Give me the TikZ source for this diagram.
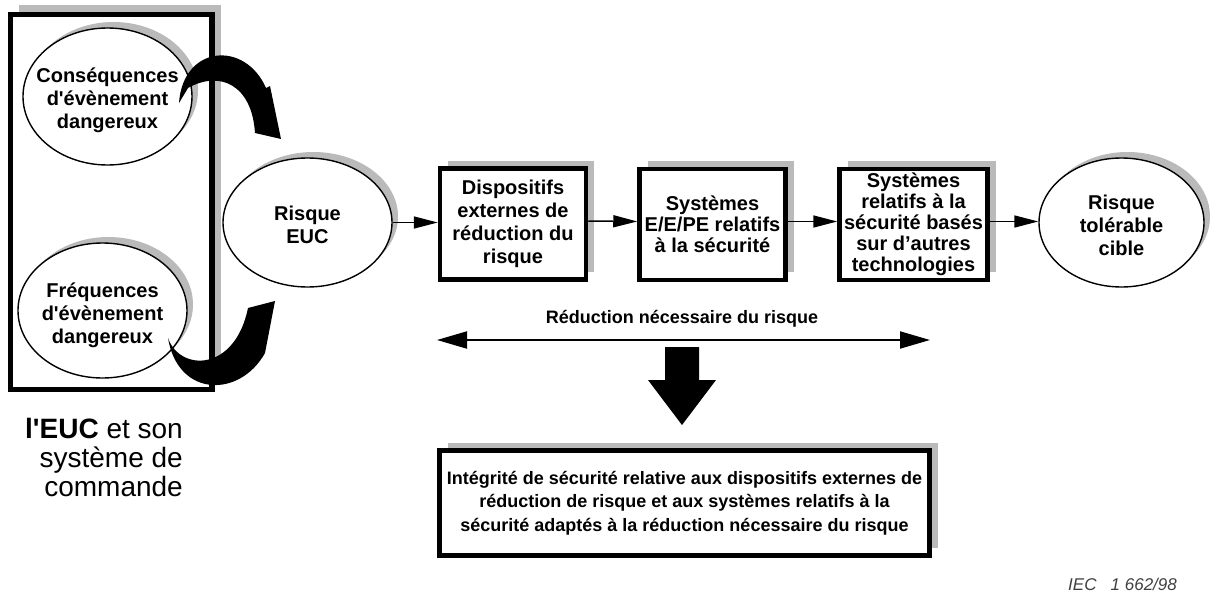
\documentclass[tikz,border=0pt]{standalone}
\usepackage{fontspec}
\setmainfont{Liberation Sans}
\usetikzlibrary{arrows.meta,shapes.geometric,shadows}
\begin{document}
\begin{tikzpicture}[x=1pt,y=-1pt,
  shadeA/.style={drop shadow={shadow xshift=#1,shadow yshift=#1,fill=black!27,opacity=1}},
  stepbox/.style={draw,line width=4.5pt,fill=white,inner sep=0pt,
    minimum width=146pt,minimum height=111pt,align=center,
    font=\fontsize{20}{21}\selectfont\bfseries,shadeA=8pt},
  oval/.style={ellipse,draw,line width=1.4pt,fill=white,inner sep=0pt,shadeA=6pt},
  ovaltext/.style={align=center,inner sep=0pt,font=\fontsize{20}{23}\selectfont\bfseries},
  conn/.style={line width=1.5pt,-{Triangle[length=24pt,width=12pt]}},
  twoway/.style={line width=2pt,{Triangle[length=30pt,width=17pt]}-{Triangle[length=30pt,width=17pt]}},
  bigarrow/.style={fill=black},
]
\useasboundingbox (0,0) rectangle (1210,594);

% EUC and its control system
\node[draw,line width=5.5pt,fill=white,inner sep=0pt,minimum width=201.5pt,
  minimum height=375pt,shadeA=9pt] (sys) at (111,202) {};
\node[oval,minimum width=169pt,minimum height=137pt] (cons) at (107.5,96.5) {};
\node[ovaltext] (constext) at (107.5,100)
  {Conséquences\\d\textquotesingle évènement\\dangereux};
\node[oval,minimum width=169pt,minimum height=135pt] (freq) at (102.5,310.5) {};
\node[ovaltext] (freqtext) at (102.5,315)
  {Fréquences\\d\textquotesingle évènement\\dangereux};
\node[anchor=north east,align=right,inner sep=0pt,font=\fontsize{28}{29}\selectfont]
  (syslabel) at (183,418) {\textbf{l\textquotesingle EUC} et son\\système de\\commande};

% EUC risk
\node[oval,minimum width=169pt,minimum height=129pt] (euc) at (307.5,222.5) {};
\node[ovaltext] (euctext) at (307.5,225) {Risque\\EUC};

% curved arrows feeding the EUC risk
\fill[bigarrow] (179,103) .. controls (183,45) and (245,40) .. (266,88)
  -- (270,86) -- (281,139) -- (255,133)
  .. controls (252,85) and (220,70) .. (188,88) -- cycle;
\fill[bigarrow] (168,338) .. controls (180,372) and (235,372) .. (248,308)
  -- (275,301) -- (265,353)
  .. controls (240,398) and (178,398) .. (168,338) -- cycle;

% risk reduction chain
\node[stepbox,font=\fontsize{20}{23}\selectfont\bfseries] (box1) at (513,224)
  {Dispositifs\\externes de\\réduction du\\risque};
\node[stepbox] (box2) at (712.5,224.5) {Systèmes\\E/E/PE relatifs\\à la sécurité};
\node[stepbox,minimum width=148pt] (box3) at (913.5,224.5)
  {Systèmes\\relatifs à la\\sécurité basés\\sur d’autres\\technologies};
\node[oval,minimum width=165pt,minimum height=129pt] (tol) at (1121.5,222.5) {};
\node[ovaltext] (toltext) at (1121.5,225) {Risque\\tolérable\\cible};

\draw[conn] (euc.east) -- (euc.east -| box1.west);
\draw[conn] ([yshift=3pt]box1.east) -- ([yshift=3pt]box2.west);
\draw[conn] ([yshift=3pt]box2.east) -- ([yshift=3pt]box3.west);
\draw[conn] ([yshift=3pt]box3.east) -- ([yshift=3pt]box3.east -| tol.west);

% necessary risk reduction
\coordinate (rl) at (437,340);
\coordinate (rr) at (930,340);
\draw[twoway] (rl) -- (rr);
\node[inner sep=0pt,font=\fontsize{18}{20}\selectfont\bfseries] (redlabel) at (682,319)
  {Réduction nécessaire du risque};

% downward block arrow
\fill[bigarrow] (665,347) -- (699,347) -- (699,380) -- (716,380) -- (682,425)
  -- (648,380) -- (665,380) -- cycle;

% safety integrity box
\node[draw,line width=4.5pt,fill=white,inner sep=0pt,minimum width=490pt,
  minimum height=105pt,align=center,shadeA=8pt,
  font=\fontsize{18}{23.5}\selectfont\bfseries] (integ) at (684.5,503)
  {Intégrité de sécurité relative aux dispositifs externes de\\
   réduction de risque et aux systèmes relatifs à la\\
   sécurité adaptés à la réduction nécessaire du risque};

% figure reference
\node[anchor=base west,inner sep=0pt,text=black!75,
  font=\fontsize{17}{20}\selectfont\itshape] (ref) at (1068,590) {IEC~~~1 662/98};
\end{tikzpicture}
\end{document}
